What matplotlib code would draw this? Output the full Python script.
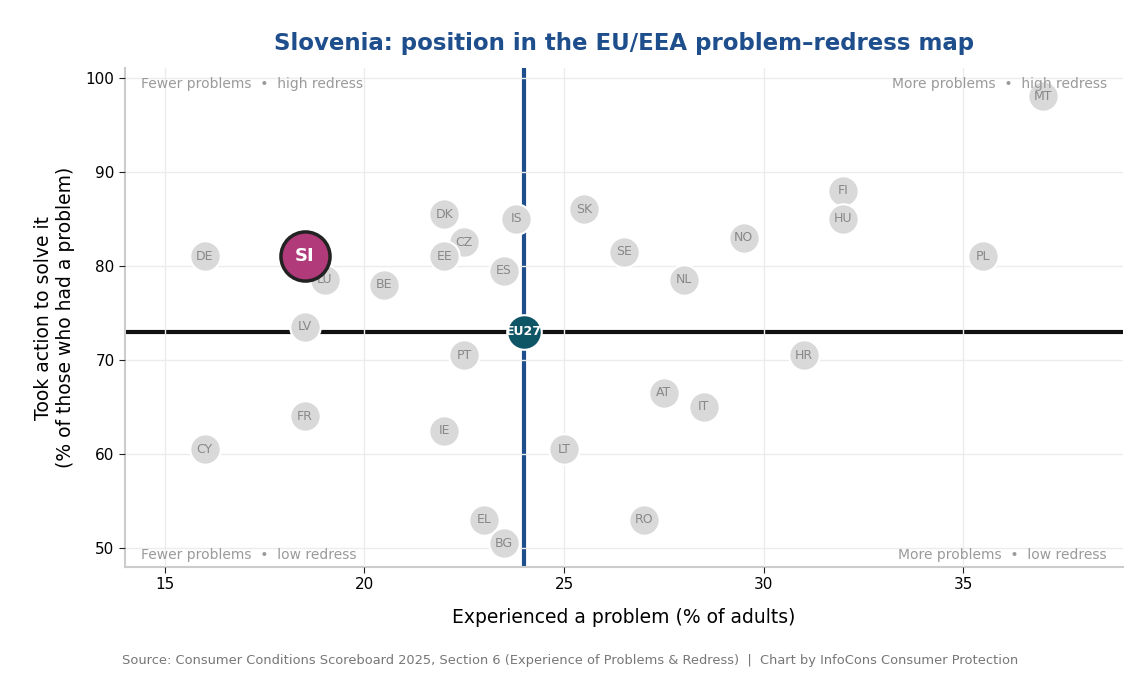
import matplotlib
matplotlib.use("Agg")
import matplotlib.pyplot as plt

# data
countries = ["DE", "LU", "LV", "BE", "DK", "CZ", "EE", "IS", "ES", "SK", "SE", "NL",
             "NO", "FI", "HU", "PL", "MT", "PT", "HR", "AT", "IT", "FR", "IE", "CY",
             "LT", "EL", "BG", "RO"]
problems = [16, 19, 18.5, 20.5, 22, 22.5, 22, 23.8, 23.5, 25.5, 26.5, 28,
            29.5, 32, 32, 35.5, 37, 22.5, 31, 27.5, 28.5, 18.5, 22, 16,
            25, 23, 23.5, 27]
redress = [81, 78.5, 73.5, 78, 85.5, 82.5, 81, 85, 79.5, 86, 81.5, 78.5,
           83, 88, 85, 81, 98, 70.5, 70.5, 66.5, 65, 64, 62.5, 60.5,
           60.5, 53, 50.5, 53]
si_x, si_y = 18.5, 81
eu_x, eu_y = 24, 73

fig = plt.figure(figsize=(11.4, 6.75), dpi=100)
ax = fig.add_axes([0.1096, 0.16, 0.8754, 0.739])

ax.set_axisbelow(False)
ax.grid(True, color="#ececec", linewidth=1, zorder=2.5)

ax.axvline(eu_x, color="#1f4e8c", linewidth=3, zorder=2)
ax.axhline(eu_y, color="#111111", linewidth=3, zorder=2)

ax.scatter(problems, redress, s=480, color="#d9d9d9", edgecolors="white",
           linewidths=1.5, zorder=3)
for c, x, y in zip(countries, problems, redress):
    ax.text(x, y, c, ha="center", va="center", fontsize=9, color="#888888", zorder=4)

ax.scatter([eu_x], [eu_y], s=620, color="#0e5566", edgecolors="white",
           linewidths=1.5, zorder=5)
ax.text(eu_x, eu_y, "EU27", ha="center", va="center", fontsize=9,
        color="white", fontweight="bold", zorder=6)

ax.scatter([si_x], [si_y], s=1250, color="#b03a7a", edgecolors="#222222",
           linewidths=2.5, zorder=7)
ax.text(si_x, si_y, "SI", ha="center", va="center", fontsize=13,
        color="white", fontweight="bold", zorder=8)

qcol = "#9a9a9a"
ax.text(0.016, 0.983, "Fewer problems  \u2022  high redress", transform=ax.transAxes,
        ha="left", va="top", fontsize=10, color=qcol, zorder=9)
ax.text(0.984, 0.983, "More problems  \u2022  high redress", transform=ax.transAxes,
        ha="right", va="top", fontsize=10, color=qcol, zorder=9)
ax.text(0.016, 0.01, "Fewer problems  \u2022  low redress", transform=ax.transAxes,
        ha="left", va="bottom", fontsize=10, color=qcol, zorder=9)
ax.text(0.984, 0.01, "More problems  \u2022  low redress", transform=ax.transAxes,
        ha="right", va="bottom", fontsize=10, color=qcol, zorder=9)

ax.set_xlim(14, 39)
ax.set_ylim(48, 101)
ax.set_xticks([15, 20, 25, 30, 35])
ax.set_yticks([50, 60, 70, 80, 90, 100])
ax.tick_params(labelsize=11, length=4, color="#222222")

for side in ["top", "right"]:
    ax.spines[side].set_visible(False)
for side in ["left", "bottom"]:
    ax.spines[side].set_color("#cccccc")
    ax.spines[side].set_linewidth(1.5)

ax.set_xlabel("Experienced a problem (% of adults)", fontsize=13.5, labelpad=11)
ax.set_ylabel("Took action to solve it\n(% of those who had a problem)", fontsize=13.5, labelpad=8)
ax.set_title("Slovenia: position in the EU/EEA problem\u2013redress map", fontsize=16.5,
             fontweight="bold", color="#1f4e8c", pad=13)

fig.text(0.5, 0.012, "Source: Consumer Conditions Scoreboard 2025, Section 6 (Experience of Problems & Redress)  |  Chart by InfoCons Consumer Protection",
         ha="center", va="bottom", fontsize=9.4, color="#777777")

fig.savefig("out.png", dpi=100)
